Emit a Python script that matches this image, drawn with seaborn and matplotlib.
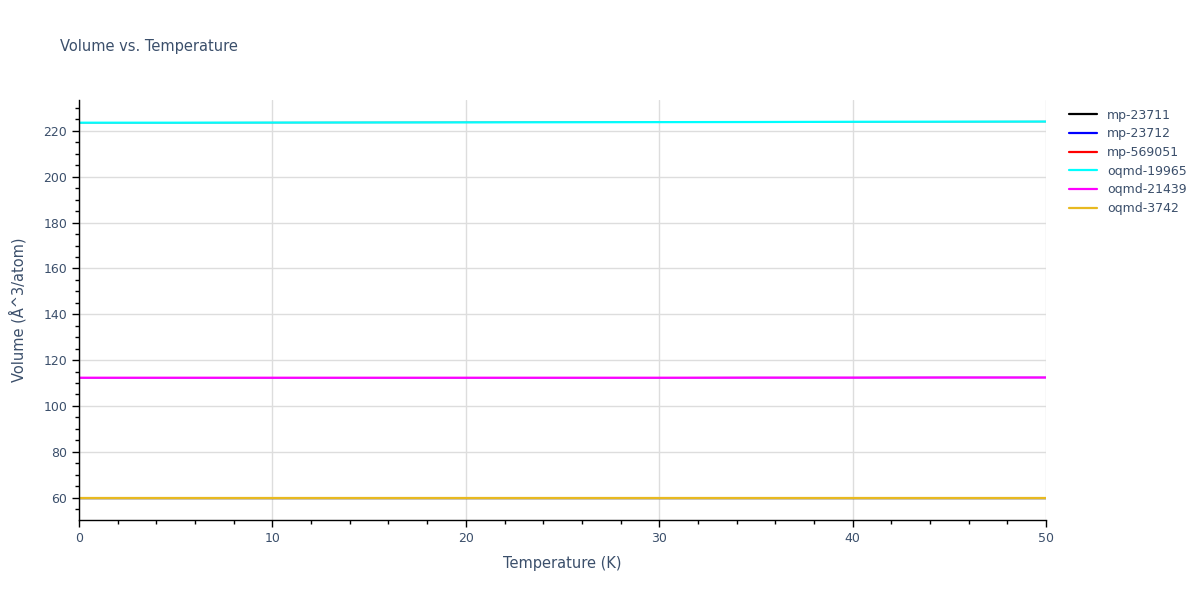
import seaborn as sns
import matplotlib.pyplot as plt
import pandas as pd
from matplotlib.ticker import MultipleLocator

sns.set_theme(style='white')
plt.rcParams['font.family'] = ['DejaVu Sans']

temps = [0, 5, 10, 15, 20, 25, 30, 35, 40, 45, 50]
series_names = ["mp-23711", "mp-23712", "mp-569051", "oqmd-19965", "oqmd-21439", "oqmd-3742"]
series_colors = ["black", "blue", "red", "cyan", "magenta", "#e8b920"]
# mp curves sit underneath the oqmd ones in the picture
vol_mp_23711 = [59.6, 59.6, 59.6, 59.6, 59.6, 59.6, 59.6, 59.6, 59.6, 59.6, 59.6]
vol_mp_23712 = [112.3, 112.3, 112.3, 112.3, 112.3, 112.3, 112.3, 112.35, 112.35, 112.4, 112.4]
vol_mp_569051 = [223.6, 223.6, 223.65, 223.7, 223.75, 223.8, 223.85, 223.9, 224.0, 224.05, 224.1]
vol_oqmd_19965 = [223.6, 223.6, 223.65, 223.7, 223.75, 223.8, 223.85, 223.9, 224.0, 224.05, 224.1]
vol_oqmd_21439 = [112.3, 112.3, 112.3, 112.3, 112.3, 112.3, 112.3, 112.35, 112.35, 112.4, 112.4]
vol_oqmd_3742 = [59.6, 59.6, 59.6, 59.6, 59.6, 59.6, 59.6, 59.6, 59.6, 59.6, 59.6]

all_vols = [vol_mp_23711, vol_mp_23712, vol_mp_569051, vol_oqmd_19965, vol_oqmd_21439, vol_oqmd_3742]
rows = []
for name, vols in zip(series_names, all_vols):
    for t, v in zip(temps, vols):
        rows.append({"Temperature": t, "Volume": v, "material": name})
df = pd.DataFrame(rows)

text_col = '#3b4f6b'
fig = plt.figure(figsize=(12, 6), dpi=100)
ax = fig.add_axes([0.0658, 0.1333, 0.806, 0.7])
sns.lineplot(data=df, x="Temperature", y="Volume", hue="material",
             palette=dict(zip(series_names, series_colors)), linewidth=1.6, ax=ax)
# keep the hidden mp curves fully under the oqmd ones
for ln in ax.lines[:3]:
    ln.set_linewidth(1.0)

ax.set_xlim(0, 50)
ax.set_ylim(50.2, 233.5)
ax.xaxis.set_major_locator(MultipleLocator(10))
ax.xaxis.set_minor_locator(MultipleLocator(2))
ax.yaxis.set_major_locator(MultipleLocator(20))
ax.yaxis.set_minor_locator(MultipleLocator(5))
ax.grid(True, which='major', color='#dddddd', linewidth=1)
ax.set_axisbelow(True)
for s in ['top', 'right']:
    ax.spines[s].set_visible(False)
for s in ['left', 'bottom']:
    ax.spines[s].set_color('black')
    ax.spines[s].set_linewidth(1)
ax.tick_params(which='major', direction='out', length=5, width=1, color='black',
               labelsize=9, labelcolor=text_col, left=True, bottom=True)
ax.tick_params(which='minor', direction='out', length=3, width=1, color='black',
               left=True, bottom=True)
ax.set_xlabel("Temperature (K)", fontsize=10.5, color=text_col, labelpad=8)
ax.set_ylabel("Volume (Å^3/atom)", fontsize=10.5, color=text_col, labelpad=12)
fig.text(0.05, 0.915, "Volume vs. Temperature", fontsize=10.5, color=text_col)

leg = ax.legend(loc='upper left', bbox_to_anchor=(1.015, 1.0), frameon=False,
                fontsize=9, handlelength=2.2, labelspacing=0.45, title=None,
                borderaxespad=0.3)
for ln in leg.get_lines():
    ln.set_linewidth(1.6)
for t in leg.get_texts():
    t.set_color(text_col)

fig.savefig("out.png")
